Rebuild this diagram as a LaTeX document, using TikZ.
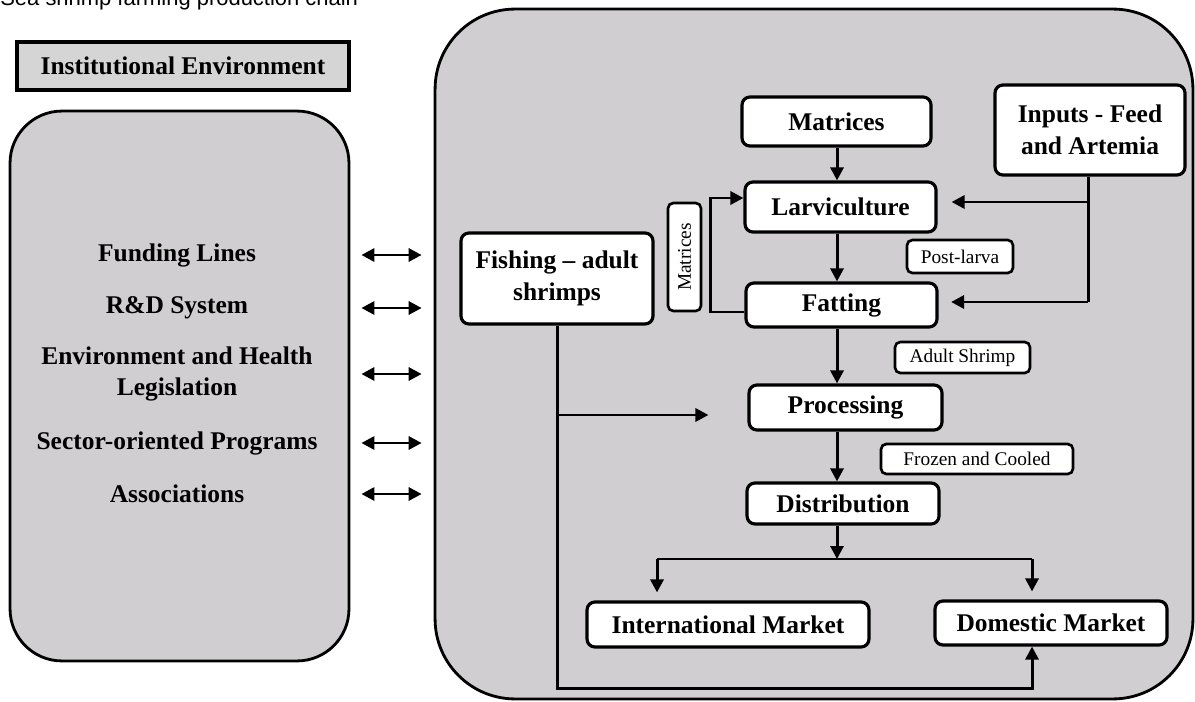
\documentclass[tikz,border=0pt]{standalone}
\usepackage{fontspec}
\setmainfont{Liberation Serif}
\newfontfamily\titlefont{Liberation Sans}
\usetikzlibrary{positioning,arrows.meta}
\definecolor{panelgray}{RGB}{208,206,208}
\definecolor{headgray}{RGB}{214,213,214}

\begin{document}
\begin{tikzpicture}[x=0.02cm, y=-0.02cm,
    panel/.style={draw, line width=1.6pt, fill=panelgray, rounded corners=#1},
    stage/.style={draw, line width=1.8pt, fill=white, rounded corners=4.5pt, align=center, inner sep=2pt,
        font=\fontsize{14.5}{18.5}\selectfont\bfseries},
    tag/.style={draw, line width=1.5pt, fill=white, rounded corners=3pt, inner sep=2pt,
        font=\fontsize{11}{13}\selectfont},
    item/.style={align=center, font=\fontsize{14.5}{18}\selectfont\bfseries},
    flow/.style={line width=1.7pt, -{Triangle[length=2.6mm,width=2.6mm]}},
    link/.style={line width=1.7pt, {Triangle[length=2.6mm,width=2.6mm]}-{Triangle[length=2.6mm,width=2.6mm]}}]
    \useasboundingbox (0,0) rectangle (1195,702);

    % title, cut at the top edge
    \node[anchor=base west, inner sep=0pt, font=\titlefont\fontsize{12.5}{15}\selectfont] (title) at (0,6)
        {Sea shrimp farming production chain};

    % the two panels
    \node[panel=1.04cm, minimum width=6.78cm, minimum height=11cm] (leftpanel) at (179.5,386) {};
    \node[panel=1.6cm, minimum width=15.16cm, minimum height=13.8cm] (rightpanel) at (814,354) {};
    \node[draw, line width=1.8pt, fill=headgray, minimum width=6.64cm, minimum height=0.96cm,
        font=\fontsize{14.5}{18}\selectfont\bfseries] (institution) at (183,66) {Institutional Environment};

    % institutional items
    \node[item] (funding) at (177,255) {Funding Lines};
    \node[item] (rnd) at (177,308) {R\&D System};
    \node[item] (envhealth) at (177,374) {Environment and Health\\Legislation};
    \node[item] (sector) at (177,443) {Sector-oriented Programs};
    \node[item] (assoc) at (177,494) {Associations};

    \foreach \n in {funding, rnd, envhealth, sector, assoc}
        \draw[link, shorten <=0.22cm, shorten >=0.24cm] (leftpanel.east |- \n) -- (rightpanel.west |- \n);

    % production chain
    \node[stage, minimum width=3.78cm, minimum height=0.98cm] (matrices) at (836.5,121.5) {Matrices};
    \node[stage, minimum width=3.8cm, minimum height=1.8cm] (inputs) at (1090,130) {Inputs - Feed\\and Artemia};
    \node[stage, minimum width=3.82cm, minimum height=1cm] (larv) at (840.5,207) {Larviculture};
    \node[tag, minimum width=2.12cm, minimum height=0.66cm] (postlarva) at (960,256.5) {Post-larva};
    \node[stage, minimum width=3.82cm, minimum height=0.88cm] (fatting) at (841.5,305) {Fatting};
    \node[tag, rotate=90, minimum width=2.16cm, minimum height=0.66cm] (matloop) at (684.5,257) {Matrices};
    \node[tag, minimum width=2.7cm, minimum height=0.62cm] (adult) at (962.5,357.5) {Adult Shrimp};
    \node[stage, minimum width=3.86cm, minimum height=0.9cm] (processing) at (845.5,407.5) {Processing};
    \node[tag, minimum width=3.84cm, minimum height=0.6cm] (frozen) at (977,459) {Frozen and Cooled};
    \node[stage, minimum width=3.84cm, minimum height=0.82cm] (distribution) at (843,503.5) {Distribution};
    \node[stage, minimum width=5.64cm, minimum height=0.9cm] (intl) at (728,624.5) {International Market};
    \node[stage, minimum width=4.64cm, minimum height=0.88cm] (domestic) at (1051,623) {Domestic Market};
    \node[stage, minimum width=3.84cm, minimum height=1.82cm] (fishing) at (557,278.5) {Fishing – adult\\shrimps};

    \coordinate (spine) at (837,0);
    \coordinate (feedlarv) at (1088,202);
    \coordinate (feedfat) at (1088,302);
    \coordinate (fishjoin) at (557,415);
    \coordinate (domin) at (1032,688);
    \coordinate (split) at (837,559);
    \coordinate (intlin) at (657,559);
    \coordinate (domtop) at (1032,559);

    \draw[flow] (spine |- matrices.south) -- (spine |- larv.north);
    \draw[flow] (spine |- larv.south) -- (spine |- fatting.north);
    \draw[flow] ([yshift=-0.14cm]fatting.west) -- ++(-34,0) |- ([yshift=0.18cm]larv.west);
    \draw[flow] (spine |- fatting.south) -- (spine |- processing.north);
    \draw[flow] (spine |- processing.south) -- (spine |- distribution.north);

    \draw[line width=1.7pt] (feedlarv |- inputs.south) -- (feedfat);
    \draw[flow, shorten >=0.28cm] (feedlarv) -- (feedlarv -| larv.east);
    \draw[flow, shorten >=0.25cm] (feedfat) -- (feedfat -| fatting.east);

    \draw[flow] (fishing.south) |- (domin) -- (domin |- domestic.south);
    \draw[flow, shorten >=0.78cm] (fishjoin) -- (fishjoin -| processing.west);

    \draw[flow] (spine |- distribution.south) -- (split);
    \draw[line width=1.7pt] (intlin) -- (domtop);
    \draw[flow, shorten >=0.16cm] (intlin) -- (intlin |- intl.north);
    \draw[flow, shorten >=0.16cm] (domtop) -- (domtop |- domestic.north);
\end{tikzpicture}
\end{document}
